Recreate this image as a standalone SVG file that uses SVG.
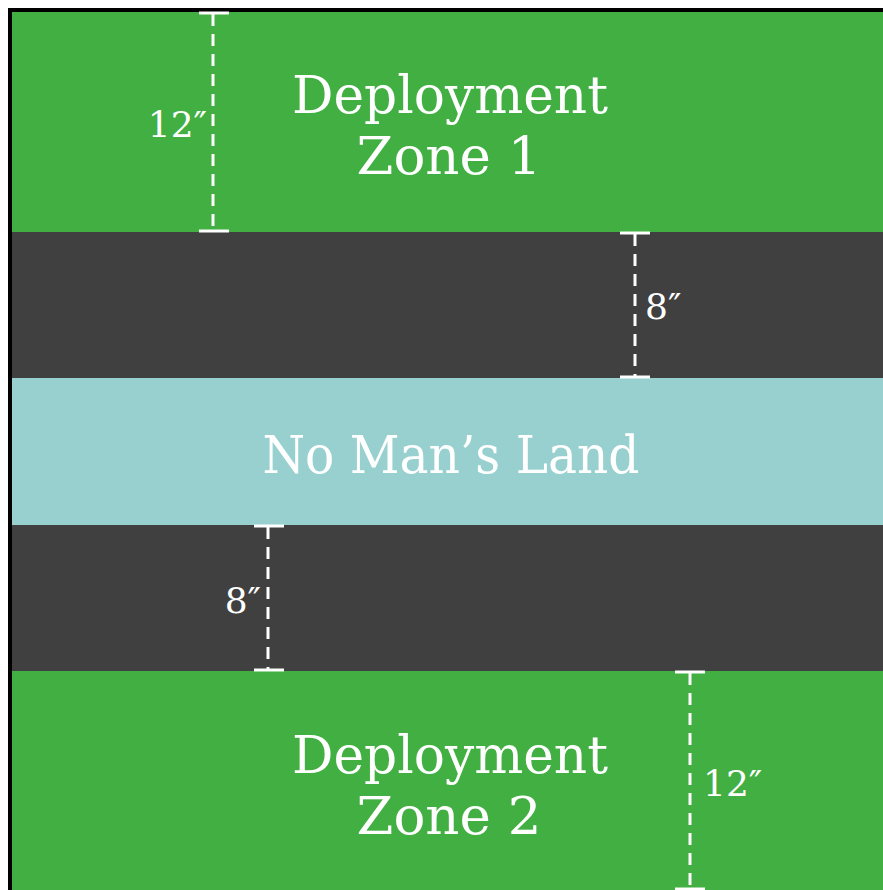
<svg xmlns="http://www.w3.org/2000/svg" width="883" height="890" viewBox="0 0 883 890">
<style>
.big{font-family:"DejaVu Serif","Liberation Serif",serif;font-size:53px;fill:#fff;text-anchor:middle}
.dim{font-family:"DejaVu Serif","Liberation Serif",serif;font-size:36px;fill:#fff}
.dash{stroke:#fff;stroke-width:3;stroke-dasharray:12 8;fill:none}
.tick{stroke:#fff;stroke-width:3;fill:none}
</style>
<rect x="0" y="0" width="883" height="890" fill="#fff"/>
<g id="deployment-zone-1">
<rect x="12" y="12" width="871" height="220" fill="#41af41"/>
<text class="big" x="450" y="113" textLength="316" lengthAdjust="spacingAndGlyphs">Deployment</text>
<text class="big" x="449" y="174">Zone 1</text>
</g>
<g id="buffer-1"><rect x="12" y="232" width="871" height="146" fill="#404040"/></g>
<g id="no-mans-land">
<rect x="12" y="378" width="871" height="147" fill="#98d0d0"/>
<text class="big" x="451" y="473" textLength="377" lengthAdjust="spacingAndGlyphs">No Man’s Land</text>
</g>
<g id="buffer-2"><rect x="12" y="525" width="871" height="146" fill="#404040"/></g>
<g id="deployment-zone-2">
<rect x="12" y="671" width="871" height="219" fill="#41af41"/>
<text class="big" x="450" y="773" textLength="316" lengthAdjust="spacingAndGlyphs">Deployment</text>
<text class="big" x="449" y="834">Zone 2</text>
</g>
<g id="border"><path d="M10 890 V10 H883" stroke="#000" stroke-width="4" fill="none"/></g>
<g id="connectors">
<line class="dash" x1="213" y1="14" x2="213" y2="230"/>
<line class="tick" x1="199" y1="13" x2="229" y2="13"/>
<line class="tick" x1="199" y1="231" x2="229" y2="231"/>
<text class="dim" x="207" y="137" text-anchor="end">12″</text>
<line class="dash" x1="635" y1="234" x2="635" y2="376"/>
<line class="tick" x1="620" y1="233" x2="650" y2="233"/>
<line class="tick" x1="620" y1="377" x2="650" y2="377"/>
<text class="dim" x="645" y="319">8″</text>
<line class="dash" x1="268" y1="527" x2="268" y2="669"/>
<line class="tick" x1="254" y1="526" x2="284" y2="526"/>
<line class="tick" x1="254" y1="670" x2="284" y2="670"/>
<text class="dim" x="261" y="613" text-anchor="end">8″</text>
<line class="dash" x1="690" y1="673" x2="690" y2="888"/>
<line class="tick" x1="675" y1="672" x2="705" y2="672"/>
<line class="tick" x1="675" y1="889" x2="705" y2="889"/>
<text class="dim" x="703" y="796">12″</text>
</g>
</svg>
